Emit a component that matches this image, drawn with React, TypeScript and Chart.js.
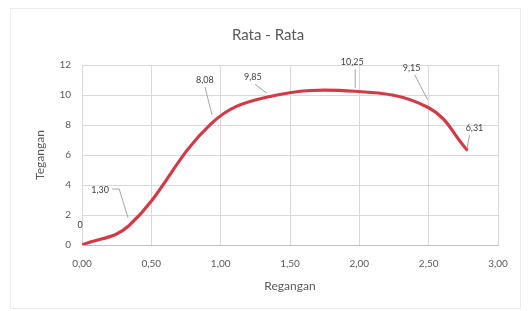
import React, { useEffect, useRef } from "react";
import { Chart, registerables } from "chart.js";

Chart.register(...registerables);

const chartTitle = "Rata - Rata";
const xAxisTitle = "Regangan";
const yAxisTitle = "Tegangan";

const strainValues = [0, 0.34, 0.93, 1.33, 1.97, 2.5, 2.78];
const stressValues = [0, 1.3, 8.08, 9.85, 10.25, 9.15, 6.31];
const pointLabels = ["0", "1,30", "8,08", "9,85", "10,25", "9,15", "6,31"];

// label placement relative to each point (px)
const labelOffsets: [number, number][] = [
  [-2, -20],
  [-29, -35],
  [-6, -44],
  [-13.5, -20],
  [-3, -29],
  [-17, -40],
  [7, -22],
];
const leaderLines: [number, number][][] = [
  [],
  [[-17, -36.5], [-10, -36.5], [-1, -7.5]],
  [[-6, -37], [1, -9]],
  [[-11.5, -13], [0.5, -4]],
  [[0, -22], [0, -3]],
  [[-14, -33], [-1, -8]],
  [[2, -15], [-0.5, -2]],
];

const FONT = "Lato, 'Open Sans', 'Liberation Sans', sans-serif";

const decoPlugin = {
  id: "deco",
  beforeDraw(chart: any) {
    const ctx = chart.ctx;
    ctx.save();
    ctx.fillStyle = "#ffffff";
    ctx.fillRect(0, 0, chart.width, chart.height);
    ctx.strokeStyle = "#ebebeb";
    ctx.lineWidth = 1;
    ctx.strokeRect(10.5, 8.5, 510, 300);
    ctx.fillStyle = "#595959";
    ctx.font = `15px ${FONT}`;
    ctx.textAlign = "center";
    ctx.textBaseline = "middle";
    ctx.fillText(chartTitle, 268, 35);
    ctx.restore();
  },
  afterDatasetsDraw(chart: any) {
    const ctx = chart.ctx;
    const meta = chart.getDatasetMeta(0);
    ctx.save();
    ctx.font = `9px ${FONT}`;
    ctx.textAlign = "center";
    ctx.textBaseline = "middle";
    meta.data.forEach((el: any, i: number) => {
      const px = el.x;
      const py = el.y;
      const leader = leaderLines[i];
      if (leader && leader.length > 1) {
        ctx.strokeStyle = "#a5a5a5";
        ctx.lineWidth = 1;
        ctx.beginPath();
        leader.forEach((p, j) => {
          if (j === 0) ctx.moveTo(px + p[0], py + p[1]);
          else ctx.lineTo(px + p[0], py + p[1]);
        });
        ctx.stroke();
      }
      ctx.fillStyle = "#404040";
      const [dx, dy] = labelOffsets[i];
      ctx.fillText(pointLabels[i], px + dx, py + dy);
    });
    ctx.restore();
  },
};

export default function App() {
  const ref = useRef<HTMLCanvasElement | null>(null);
  useEffect(() => {
    if (!ref.current) return;
    const points = strainValues.map((x, i) => ({ x, y: stressValues[i] }));
    const chart = new Chart(ref.current, {
      type: "line",
      data: {
        datasets: [
          {
            data: points,
            borderColor: "#d33a48",
            borderWidth: 3.2,
            pointRadius: 0,
            tension: 0.4,
            fill: false,
          },
          {
            data: points,
            borderColor: "#a31f2e",
            borderWidth: 1.2,
            pointRadius: 0,
            tension: 0.4,
            fill: false,
          },
        ],
      },
      options: {
        animation: false,
        responsive: false,
        maintainAspectRatio: false,
        layout: { padding: { left: 0, right: 30, top: 65, bottom: 0 } },
        plugins: {
          legend: { display: false },
          tooltip: { enabled: false },
          title: { display: false },
        },
        scales: {
          x: {
            type: "linear",
            min: 0,
            max: 3,
            afterFit(scale: any) {
              scale.height = 66;
            },
            ticks: {
              stepSize: 0.5,
              padding: 13,
              color: "#595959",
              font: { family: FONT, size: 10 },
              callback: (v: any) => Number(v).toFixed(2).replace(".", ","),
            },
            grid: { color: "#d9d9d9", drawTicks: false },
            border: { display: true, color: "#bfbfbf", width: 1 },
            title: {
              display: true,
              text: xAxisTitle,
              color: "#595959",
              font: { family: FONT, size: 12 },
              padding: { top: 0, bottom: 18 },
            },
          },
          y: {
            type: "linear",
            min: 0,
            max: 12,
            afterFit(scale: any) {
              scale.width = 82;
            },
            ticks: {
              stepSize: 2,
              padding: 11,
              color: "#595959",
              font: { family: FONT, size: 10 },
            },
            grid: { color: "#d9d9d9", drawTicks: false },
            border: { display: false },
            title: {
              display: true,
              text: yAxisTitle,
              color: "#595959",
              font: { family: FONT, size: 12 },
              padding: { top: 33, bottom: 0 },
            },
          },
        },
      },
      plugins: [decoPlugin],
    });
    return () => chart.destroy();
  }, []);
  return (
    <div style={{ position: "fixed", left: 0, top: 0, width: 528, height: 311 }}>
      <canvas ref={ref} width={528} height={311} style={{ display: "block" }} />
    </div>
  );
}
